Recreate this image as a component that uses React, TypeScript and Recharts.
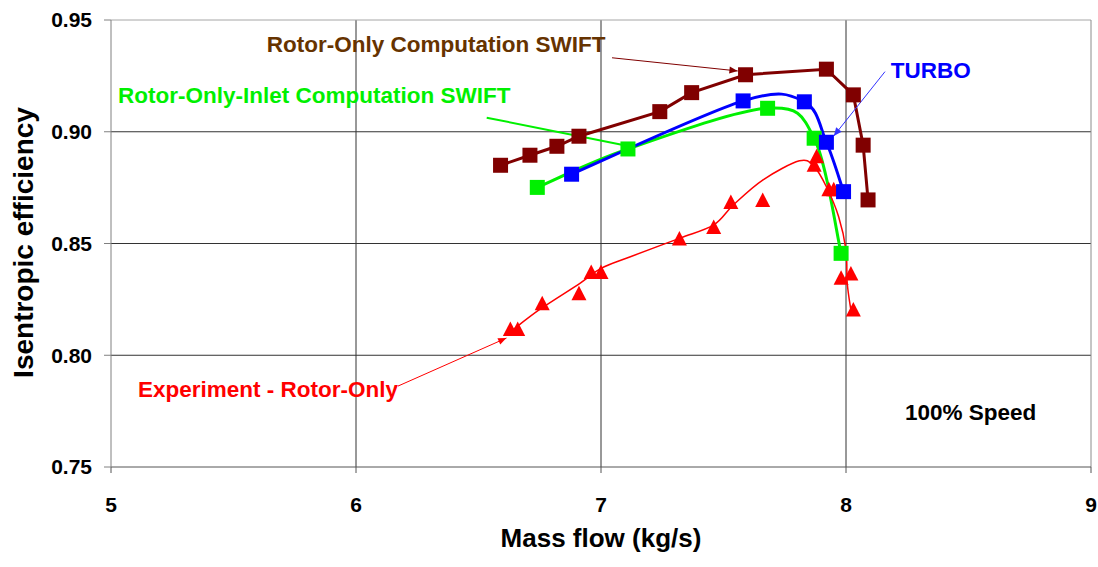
import {
  ComposedChart,
  Line,
  XAxis,
  YAxis,
  CartesianGrid,
  ReferenceLine,
  ReferenceDot,
  Label,
} from "recharts";

const FONT = "Arial, 'Liberation Sans', sans-serif";

// Rotor-Only Computation SWIFT
const swiftFlow = [6.59, 6.71, 6.82, 6.91, 7.24, 7.37, 7.59, 7.92, 8.03, 8.07, 8.09];
const swiftEff = [0.885, 0.8895, 0.8935, 0.898, 0.909, 0.9175, 0.9255, 0.928, 0.9165, 0.894, 0.8695];

// TURBO
const turboFlow = [6.88, 7.58, 7.83, 7.92, 7.99];
const turboEff = [0.881, 0.9138, 0.9134, 0.8953, 0.8732];

// Rotor-Only-Inlet Computation SWIFT
const inletFlow = [6.74, 7.11, 7.68, 7.87, 7.98];
const inletEff = [0.8751, 0.8923, 0.9105, 0.8971, 0.8456];

// Experiment - Rotor-Only, measured points
const expFlow = [6.63, 6.66, 6.76, 6.91, 6.96, 7.0, 7.32, 7.46, 7.53, 7.66, 7.88, 7.87, 7.93, 7.95, 7.98, 8.02, 8.03];
const expEff = [0.8115, 0.8115, 0.823, 0.8275, 0.837, 0.837, 0.852, 0.8572, 0.8683, 0.8692, 0.8888, 0.885, 0.874, 0.874, 0.8344, 0.8364, 0.8203];

// Experiment trend curve
const trendFlow = [6.63, 6.75, 6.914, 7.0, 7.12, 7.32, 7.46, 7.54, 7.66, 7.81, 7.87, 7.92, 7.97, 8.0, 8.005, 8.02];
const trendEff = [0.8105, 0.8205, 0.8322, 0.8389, 0.8441, 0.8523, 0.8583, 0.8672, 0.8784, 0.887, 0.8844, 0.8754, 0.862, 0.847, 0.8322, 0.8202];

const xTicks = [5, 6, 7, 8, 9];
const yTicks = [0.75, 0.8, 0.85, 0.9, 0.95];

const toPoints = (xs: number[], ys: number[]) => xs.map((x, i) => ({ x, y: ys[i] }));

// callout texts: [x, y, text, colour]
const callouts: [number, number, string, string][] = [
  [5.6355, 0.9358, "Rotor-Only Computation SWIFT", "#663300"],
  [5.0286, 0.9127, "Rotor-Only-Inlet Computation SWIFT", "#00f000"],
  [8.1824, 0.9239, "TURBO", "#0000ff"],
  [5.1102, 0.7813, "Experiment - Rotor-Only", "#ff0000"],
  [8.2408, 0.771, "100% Speed", "#000000"],
];

// leader arrows: [x1, y1, x2, y2, colour, width, head]
const arrows: [number, number, number, number, string, number, boolean][] = [
  [7.045, 0.9331, 7.558, 0.9272, "#800000", 1, true],
  [6.5335, 0.9063, 7.09, 0.8941, "#00f000", 2, false],
  [8.1592, 0.9269, 7.95, 0.8981, "#3333ff", 1, true],
  [6.1714, 0.7862, 6.614, 0.8077, "#ff0000", 1, true],
];

// Smoothed line the way spreadsheet charts do it (Catmull-Rom style Beziers)
const smoothCurve = (context: any) => {
  let pts: [number, number][] = [];
  return {
    areaStart() {},
    areaEnd() {},
    lineStart() {
      pts = [];
    },
    point(x: number, y: number) {
      pts.push([+x, +y]);
    },
    lineEnd() {
      if (!pts.length) return;
      context.moveTo(pts[0][0], pts[0][1]);
      for (let i = 0; i < pts.length - 1; i++) {
        const p0 = pts[Math.max(i - 1, 0)];
        const p1 = pts[i];
        const p2 = pts[i + 1];
        const p3 = pts[Math.min(i + 2, pts.length - 1)];
        context.bezierCurveTo(
          p1[0] + (p2[0] - p0[0]) / 6,
          p1[1] + (p2[1] - p0[1]) / 6,
          p2[0] - (p3[0] - p1[0]) / 6,
          p2[1] - (p3[1] - p1[1]) / 6,
          p2[0],
          p2[1]
        );
      }
    },
  };
};

const square = (color: string) => (p: any) => (
  <rect
    key={`sq-${p.index}`}
    x={p.cx - 7.5}
    y={p.cy - 7.5}
    width={15}
    height={15}
    fill={color}
  />
);

const triangle = (p: any) => (
  <polygon
    key={`tri-${p.index}`}
    points={`${p.cx},${p.cy - 8} ${p.cx + 7.5},${p.cy + 6.5} ${p.cx - 7.5},${p.cy + 6.5}`}
    fill="#ff0000"
  />
);

const arrowShape = (color: string, width: number, head: boolean) => (p: any) => {
  const { x1, y1, x2, y2 } = p;
  const a = Math.atan2(y2 - y1, x2 - x1);
  const len = 9;
  const spread = 0.4;
  const hx1 = x2 - len * Math.cos(a - spread);
  const hy1 = y2 - len * Math.sin(a - spread);
  const hx2 = x2 - len * Math.cos(a + spread);
  const hy2 = y2 - len * Math.sin(a + spread);
  return (
    <g>
      <line x1={x1} y1={y1} x2={x2} y2={y2} stroke={color} strokeWidth={width} />
      {head && <polygon points={`${x2},${y2} ${hx1},${hy1} ${hx2},${hy2}`} fill={color} />}
    </g>
  );
};

const calloutShape = (text: string, color: string) => (p: any) => (
  <text
    x={p.cx}
    y={p.cy}
    fill={color}
    fontFamily={FONT}
    fontWeight="bold"
    fontSize={22.5}
  >
    {text}
  </text>
);

export default function App() {
  const tickStyle = { fontSize: 21, fontWeight: "bold", fill: "#000", fontFamily: FONT };

  return (
    <div style={{ position: "absolute", left: 0, top: 0, background: "#fff" }}>
      <ComposedChart
        width={1098}
        height={567}
        margin={{ top: 20, right: 7, bottom: 0, left: 0 }}
      >
        <CartesianGrid
          stroke="#333"
          horizontalValues={[0.8, 0.85, 0.9]}
          verticalValues={[6, 7, 8]}
        />
        <ReferenceLine y={0.95} stroke="#a6a6a6" />
        <ReferenceLine x={9} stroke="#8c8c8c" />
        <XAxis
          dataKey="x"
          type="number"
          domain={[5, 9]}
          ticks={xTicks}
          allowDataOverflow
          height={100}
          tick={tickStyle}
          tickSize={6}
          tickMargin={24}
          stroke="#555"
        >
          <Label
            content={(p: any) => (
              <text
                x={p.viewBox.x + p.viewBox.width / 2}
                y={p.viewBox.y + 80}
                textAnchor="middle"
                fontFamily={FONT}
                fontWeight="bold"
                fontSize={26}
                fill="#000"
              >
                Mass flow (kg/s)
              </text>
            )}
          />
        </XAxis>
        <YAxis
          dataKey="y"
          type="number"
          domain={[0.75, 0.95]}
          ticks={yTicks}
          allowDataOverflow
          width={111}
          tick={tickStyle}
          tickSize={7}
          tickMargin={12}
          tickFormatter={(v: number) => v.toFixed(2)}
          stroke="#808080"
        >
          <Label
            content={(p: any) => {
              const cx = p.viewBox.x + 33;
              const cy = p.viewBox.y + p.viewBox.height / 2 - 1;
              return (
                <text
                  x={cx}
                  y={cy}
                  transform={`rotate(-90 ${cx} ${cy})`}
                  textAnchor="middle"
                  fontFamily={FONT}
                  fontWeight="bold"
                  fontSize={28}
                  fill="#000"
                >
                  Isentropic efficiency
                </text>
              );
            }}
          />
        </YAxis>

        <Line
          data={toPoints(inletFlow, inletEff)}
          dataKey="y"
          type={smoothCurve as any}
          stroke="#00f000"
          strokeWidth={3}
          dot={square("#00f000")}
          activeDot={false}
          isAnimationActive={false}
        />
        <Line
          data={toPoints(trendFlow, trendEff)}
          dataKey="y"
          type={smoothCurve as any}
          stroke="#ff0000"
          strokeWidth={1.5}
          dot={false}
          activeDot={false}
          isAnimationActive={false}
        />
        <Line
          data={toPoints(expFlow, expEff)}
          dataKey="y"
          stroke="none"
          dot={triangle}
          activeDot={false}
          isAnimationActive={false}
        />
        <Line
          data={toPoints(turboFlow, turboEff)}
          dataKey="y"
          type={smoothCurve as any}
          stroke="#0000ff"
          strokeWidth={3}
          dot={square("#0000ff")}
          activeDot={false}
          isAnimationActive={false}
        />
        <Line
          data={toPoints(swiftFlow, swiftEff)}
          dataKey="y"
          type="linear"
          stroke="#800000"
          strokeWidth={3}
          dot={square("#800000")}
          activeDot={false}
          isAnimationActive={false}
        />

        {arrows.map(([x1, y1, x2, y2, color, w, head], i) => (
          <ReferenceLine
            key={`arrow-${i}`}
            segment={[
              { x: x1, y: y1 },
              { x: x2, y: y2 },
            ]}
            shape={arrowShape(color, w, head)}
          />
        ))}
        {callouts.map(([x, y, text, color], i) => (
          <ReferenceDot
            key={`callout-${i}`}
            x={x}
            y={y}
            r={0}
            shape={calloutShape(text, color)}
          />
        ))}
      </ComposedChart>
    </div>
  );
}
